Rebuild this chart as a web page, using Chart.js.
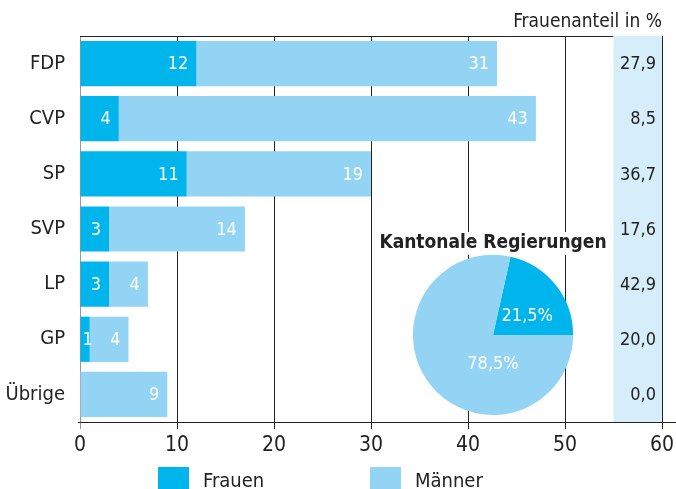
<!DOCTYPE html>
<html lang="de">
<head>
<meta charset="UTF-8">
<title>Frauenanteil nach Partei</title>
<script src="https://cdn.jsdelivr.net/npm/chart.js"></script>
<style>
  html, body { margin: 0; padding: 0; background: #fff; }
  body { width: 676px; height: 489px; position: relative; overflow: hidden;
         font-family: "Liberation Sans Narrow", "DejaVu Sans Condensed", "Roboto", sans-serif; color: #222; }
  #barWrap { position: absolute; left: 0; top: 0; width: 676px; height: 489px; }
  #pieWrap { position: absolute; left: 373px; top: 232px; width: 240px; height: 183px; }
  .leg { position: absolute; top: 467px; height: 22px; font-size: 20px; line-height: 26px; }
  .leg span { position: absolute; top: 0; width: 31px; height: 22px; }
  .leg b { position: absolute; top: 0; font-weight: normal; white-space: nowrap; }
</style>
</head>
<body>
<div id="barWrap"><canvas id="bars"></canvas></div>
<div id="pieWrap"><canvas id="pie"></canvas></div>
<div class="leg" style="left:158px"><span style="background:#00b5eb"></span><b style="left:45px">Frauen</b></div>
<div class="leg" style="left:370px"><span style="background:#93d4f4"></span><b style="left:45px">Männer</b></div>

<script>
const parteien = ['FDP', 'CVP', 'SP', 'SVP', 'LP', 'GP', 'Übrige'];
const frauen = [12, 4, 11, 3, 3, 1, 0];
const maenner = [31, 43, 19, 14, 4, 4, 9];
const frauenanteil = ['27,9', '8,5', '36,7', '17,6', '42,9', '20,0', '0,0'];
const xTicks = [0, 10, 20, 30, 40, 50, 60];
const pieLabels = ['Frauen', 'Männer'];
const pieWerte = [21.5, 78.5];

const FONT = '"Liberation Sans Narrow", "DejaVu Sans Condensed", "Roboto", sans-serif';
const BLAU = '#00b5eb';
const HELL = '#93d4f4';

// hellblaue Spalte 55–60 mit Frauenanteil, Rahmenlinien
const spalte = {
  id: 'spalte',
  beforeDatasetsDraw(chart) {
    const { ctx, chartArea: a, scales: { x } } = chart;
    ctx.save();
    ctx.strokeStyle = '#222';
    ctx.lineWidth = 1;
    ctx.beginPath();
    ctx.moveTo(a.left, a.top + 0.5);
    ctx.lineTo(x.getPixelForValue(55), a.top + 0.5);
    ctx.stroke();
    ctx.fillStyle = '#d6eefa';
    const x0 = x.getPixelForValue(55), x1 = x.getPixelForValue(60);
    ctx.fillRect(x0, a.top, x1 - x0, a.bottom - a.top);
    ctx.strokeStyle = '#222';
    ctx.beginPath();
    ctx.moveTo(x1 + 0.5, a.top);
    ctx.lineTo(x1 + 0.5, a.bottom);
    ctx.stroke();
    // untere Achse bis zum Rand
    ctx.beginPath();
    ctx.moveTo(a.left - 2, a.bottom + 0.5);
    ctx.lineTo(chart.width, a.bottom + 0.5);
    ctx.stroke();
    ctx.restore();
  },
  afterDatasetsDraw(chart) {
    const { ctx, chartArea: a, scales: { x, y } } = chart;
    ctx.save();
    ctx.font = '18px ' + FONT;
    ctx.textBaseline = 'middle';
    // Werte in den Balken
    ctx.fillStyle = '#fff';
    ctx.textAlign = 'right';
    chart.data.datasets.forEach((ds, i) => {
      chart.getDatasetMeta(i).data.forEach((bar, j) => {
        const v = ds.data[j];
        if (!v) return;
        const txt = String(v);
        const w = ctx.measureText(txt).width;
        const start = Math.min(bar.x, bar.base);
        const xr = Math.max(bar.x - 8, start + 2 + w);
        ctx.fillText(txt, xr, bar.y + 1);
      });
    });
    // Frauenanteil
    ctx.fillStyle = '#222';
    frauenanteil.forEach((t, j) => {
      ctx.fillText(t, x.getPixelForValue(60) - 6, y.getPixelForValue(j) + 1);
    });
    // Spaltenkopf
    ctx.font = '19px ' + FONT;
    ctx.fillText('Frauenanteil in %', x.getPixelForValue(60), a.top - 14);
    ctx.restore();
  }
};

new Chart(document.getElementById('bars'), {
  type: 'bar',
  data: {
    labels: parteien,
    datasets: [
      { label: 'Frauen', data: frauen, backgroundColor: BLAU },
      { label: 'Männer', data: maenner, backgroundColor: HELL }
    ]
  },
  options: {
    indexAxis: 'y',
    responsive: true,
    maintainAspectRatio: false,
    animation: false,
    events: [],
    layout: { padding: { top: 36, right: 14, left: 0, bottom: 0 } },
    datasets: { bar: { barPercentage: 0.82, categoryPercentage: 1 } },
    plugins: { legend: { display: false }, tooltip: { enabled: false } },
    scales: {
      x: {
        stacked: true,
        min: 0, max: 60,
        afterBuildTicks(s) { s.ticks = xTicks.map(v => ({ value: v })); },
        afterFit(s) { s.height = 67; s.paddingRight = 0; s.paddingLeft = 0; },
        grid: {
          color: c => c.tick && c.tick.value === 0 ? '#999' : '#222',
          tickLength: 7,
          tickColor: c => c.tick && c.tick.value === 0 ? '#999' : '#222'
        },
        border: { display: false },
        ticks: { color: '#222', font: { family: FONT, size: 21 }, padding: 4, maxRotation: 0 }
      },
      y: {
        stacked: true,
        afterFit(s) { s.width = 80; },
        grid: { drawOnChartArea: false, drawTicks: false },
        border: { color: '#999' },
        ticks: { color: '#222', font: { family: FONT, size: 20 }, padding: 15 }
      }
    }
  },
  plugins: [spalte]
});

// weißer Hintergrund hinter dem Titel der Torte, Beschriftung der Stücke
const tortenText = {
  id: 'tortenText',
  beforeDraw(chart) {
    const t = chart.titleBlock;
    const { ctx } = chart;
    ctx.save();
    ctx.font = 'bold 19px ' + FONT;
    const w = ctx.measureText(chart.options.plugins.title.text).width;
    ctx.fillStyle = '#fff';
    const cx = (t.left + t.right) / 2;
    ctx.fillRect(cx - w / 2 - 2, t.top, w + 4, t.height);
    ctx.restore();
  },
  afterDatasetsDraw(chart) {
    const { ctx } = chart;
    const arcs = chart.getDatasetMeta(0).data;
    ctx.save();
    ctx.font = '18px ' + FONT;
    ctx.fillStyle = '#fff';
    ctx.textAlign = 'center';
    ctx.textBaseline = 'middle';
    const a0 = arcs[0];
    const p = a0.tooltipPosition();
    ctx.fillText(pieWerte[0].toFixed(1).replace('.', ',') + '%', p.x + 3, p.y + 6);
    const a1 = arcs[1];
    ctx.fillText(pieWerte[1].toFixed(1).replace('.', ',') + '%', a1.x, a1.y + a1.outerRadius * 0.37);
    ctx.restore();
  }
};

new Chart(document.getElementById('pie'), {
  type: 'pie',
  data: {
    labels: pieLabels,
    datasets: [{ data: pieWerte, backgroundColor: [BLAU, HELL], borderWidth: 0 }]
  },
  options: {
    responsive: true,
    maintainAspectRatio: false,
    animation: false,
    events: [],
    rotation: 12.6,
    layout: { padding: 0 },
    plugins: {
      legend: { display: false },
      tooltip: { enabled: false },
      title: {
        display: true,
        text: 'Kantonale Regierungen',
        color: '#222',
        font: { family: FONT, size: 19, weight: 'bold' },
        padding: { top: 0, bottom: 0 }
      }
    }
  },
  plugins: [tortenText]
});
</script>
</body>
</html>
